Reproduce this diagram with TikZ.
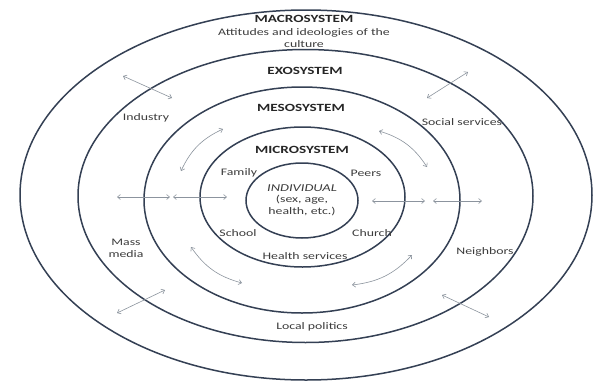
\documentclass[tikz,border=0pt]{standalone}
\usepackage{fontspec}
\setmainfont{Carlito}
\usetikzlibrary{arrows.meta}
\newcommand{\hs}[1]{\scalebox{1.38}[1]{#1}}
\definecolor{ring}{RGB}{52,64,84}
\definecolor{arr}{RGB}{140,148,158}
\definecolor{txt}{RGB}{60,60,60}
\tikzset{
  ringline/.style={draw=ring,line width=1.5pt},
  lab/.style={font=\fontsize{10}{12}\selectfont,text=txt,inner sep=0pt,align=center},
  ttl/.style={font=\fontsize{11}{13}\selectfont\bfseries,text=black!85,inner sep=0pt},
  link/.style={draw=arr,line width=0.6pt,{Straight Barb[length=3pt,width=5pt]}-{Straight Barb[length=3pt,width=5pt]}}
}
\begin{document}
\begin{tikzpicture}[x=1pt,y=1pt]
\useasboundingbox (0,0) rectangle (595,-381);
\fill[white] (0,0) rectangle (595,-381);
% rings
\draw[ringline] (306,-195) ellipse [x radius=286, y radius=185];
\draw[ringline] (305.5,-196) ellipse [x radius=227.5, y radius=146.5];
\draw[ringline] (302,-200) ellipse [x radius=158, y radius=113];
\draw[ringline] (302.5,-197) ellipse [x radius=102.5, y radius=70];
\draw[ringline] (302,-200.5) ellipse [x radius=56, y radius=37.5];
% titles
\node[ttl] (macro) at (304,-19) {\hs{MACROSYSTEM}};
\node[lab] (macrotxt) at (304,-38) {\hs{Attitudes and ideologies of the}\\\hs{culture}};
\node[ttl] (exo) at (305,-71) {\hs{EXOSYSTEM}};
\node[ttl] (meso) at (301,-108) {\hs{MESOSYSTEM}};
\node[ttl] (micro) at (302,-150) {\hs{MICROSYSTEM}};
\node[lab,font=\fontsize{10.5}{12}\selectfont\itshape] (indiv) at (302,-188) {\hs{INDIVIDUAL}};
\node[lab] (indivtxt) at (302,-206) {\hs{(sex, age,}\\\hs{health, etc.)}};
% microsystem labels
\node[lab] (family) at (239,-173) {\hs{Family}};
\node[lab] (peers) at (366,-173) {\hs{Peers}};
\node[lab] (school) at (238,-233) {\hs{School}};
\node[lab] (church) at (372,-233) {\hs{Church}};
\node[lab] (health) at (305,-256) {\hs{Health services}};
% exosystem labels
\node[lab] (industry) at (146,-118) {\hs{Industry}};
\node[lab] (social) at (462,-122) {\hs{Social services}};
\node[lab] (media) at (126,-248) {\hs{Mass}\\\hs{media}};
\node[lab] (neighbors) at (485,-252) {\hs{Neighbors}};
\node[lab] (local) at (312,-327) {\hs{Local politics}};
% arrow end points
\coordinate (a1) at (123,-76);  \coordinate (b1) at (172,-98);
\coordinate (a2) at (427,-98);  \coordinate (b2) at (468,-72);
\coordinate (a3) at (223,-129); \coordinate (b3) at (181,-171);
\coordinate (a4) at (379,-131); \coordinate (b4) at (427,-167);
\coordinate (a5) at (117,-197); \coordinate (b5) at (170,-197);
\coordinate (a6) at (173,-197); \coordinate (b6) at (227,-197);
\coordinate (a7) at (372,-201); \coordinate (b7) at (425,-201);
\coordinate (a8) at (433,-201); \coordinate (b8) at (482,-201);
\coordinate (a9) at (191,-247); \coordinate (b9) at (242,-283);
\coordinate (a10) at (412,-255); \coordinate (b10) at (352,-285);
\coordinate (a11) at (117,-313); \coordinate (b11) at (165,-290);
\coordinate (a12) at (442,-295); \coordinate (b12) at (489,-317);
% arrows
\draw[link] (a1) -- (b1);
\draw[link] (a2) -- (b2);
\draw[link] (a3) to[bend right=20] (b3);
\draw[link] (a4) to[bend left=20] (b4);
\draw[link] (a5) -- (b5);
\draw[link] (a6) -- (b6);
\draw[link] (a7) -- (b7);
\draw[link] (a8) -- (b8);
\draw[link] (a9) to[bend right=20] (b9);
\draw[link] (a10) to[bend left=20] (b10);
\draw[link] (a11) -- (b11);
\draw[link] (a12) -- (b12);
\end{tikzpicture}
\end{document}
